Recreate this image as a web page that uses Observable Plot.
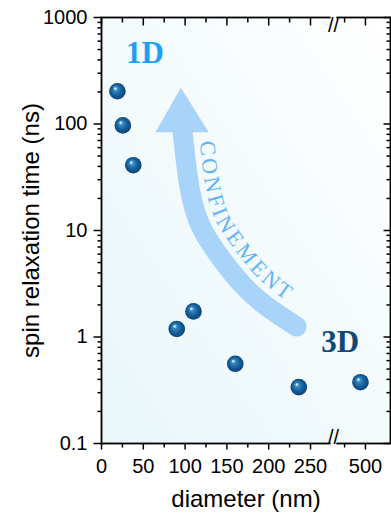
<!DOCTYPE html>
<html>
<head>
<meta charset="utf-8">
<script src="https://cdn.jsdelivr.net/npm/d3@7"></script>
<script src="https://cdn.jsdelivr.net/npm/@observablehq/plot@0.6"></script>
<style>
  html, body { margin: 0; padding: 0; background: #fff; overflow: hidden; }
  svg { display: block; }
</style>
</head>
<body>
<div id="chart"></div>
<script>
// ---- data ----
const diameters  = [19, 25.5, 38, 90, 110, 160, 236, 494];          // nm
const relaxTimes = [203, 97, 41, 1.19, 1.74, 0.56, 0.338, 0.376];   // ns

// axis ticks
const yTicks      = [0.1, 1, 10, 100, 1000];
const yTickLabels = ["0.1", "1", "10", "100", "1000"];
const xTicks      = [0, 50, 100, 150, 200, 250, 500];
const xTickLabels = ["0", "50", "100", "150", "200", "250", "500"];
const xMinorTicks = [25, 75, 125, 175, 225, 475];
const xBreak      = [277.5, 461.7];   // broken x-axis interval
const xMax        = 530;

// annotation: curved "confinement" arrow (data coordinates)
const arrowX = [96.9, 105.3, 118.4, 138.8, 166.3, 196.2, 233.3];
const arrowY = [85.0, 25.3, 11.1, 6.08, 3.25, 1.976, 1.255];
const headX  = [94.9, 64.6, 128.3, 94.9];
const headY  = [218.8, 83.8, 83.8, 218.8];

// annotation labels
const dimLabels = ["1D", "3D"];
const dimLabelX = [52, 469.6];
const dimLabelY = [464, 0.894];

const yMinorTicks = [];
for (const dec of [0.1, 1, 10, 100]) for (let k = 2; k <= 9; k++) yMinorTicks.push(+(dec * k).toPrecision(3));

const points = diameters.map((d, i) => ({diameter: d, time: relaxTimes[i]}));
const shaft = arrowX.map((x, i) => ({x, y: arrowY[i]}));
const head = headX.map((x, i) => ({x, y: headY[i]}));

// layout
const W = 391, H = 514, mL = 101, mR = 1, mT = 17, mB = 71;

const xOpts = {type: "linear", domain: [0, xBreak[0], xBreak[1], xMax], range: [mL, 333, 333, W - mR]};
const yOpts = {type: "log", domain: [0.1, 1000], range: [H - mB, mT]};
const xs = Plot.scale({x: xOpts});
const ys = Plot.scale({y: yOpts});

// tick segments (each tick = 2 points), lengths given in pixels and mapped back through the scales
const tickSegs = [];
let tid = 0;
const yTick = (v, p0, p1) => { tickSegs.push({id: tid, x: xs.invert(p0), y: v}, {id: tid, x: xs.invert(p1), y: v}); tid++; };
const xTick = (v, p0, p1) => { tickSegs.push({id: tid, x: v, y: ys.invert(p0)}, {id: tid, x: v, y: ys.invert(p1)}); tid++; };
yTicks.forEach(v => { yTick(v, mL - 8, mL); yTick(v, W - mR - 7, W - mR); });
yMinorTicks.forEach(v => { yTick(v, mL - 4, mL); yTick(v, W - mR - 4, W - mR); });
xTicks.forEach(v => { xTick(v, H - mB, H - mB + 6); xTick(v, mT, mT + 8); });
xMinorTicks.forEach(v => { xTick(v, H - mB, H - mB + 4); xTick(v, mT, mT + 5); });

const arrowColor = "#a9d4fa";
const fmt = (vals, labs) => d => { const i = vals.indexOf(d); return i < 0 ? "" : labs[i]; };
const serif = "'Liberation Serif', 'Times New Roman', serif";

const chart = Plot.plot({
  width: W,
  height: H,
  marginLeft: mL,
  marginRight: mR,
  marginTop: mT,
  marginBottom: mB,
  style: {fontFamily: "'Liberation Sans', Arial, sans-serif", fontSize: "20px", color: "black", background: "white", overflow: "visible"},
  x: {...xOpts, axis: null},
  y: {...yOpts, axis: null},
  marks: [
    Plot.frame({fill: "url(#bgGrad)", stroke: "none"}),
    // arrow
    Plot.line(shaft, {x: "x", y: "y", curve: "natural", stroke: arrowColor, strokeWidth: 20, strokeLinecap: "round"}),
    Plot.line(head, {x: "x", y: "y", fill: arrowColor, stroke: "none"}),
    // data points
    Plot.dot(points, {x: "diameter", y: "time", r: 8.3, fill: "url(#sphere)", stroke: "none"}),
    // labels
    Plot.text([0], {x: () => dimLabelX[0], y: () => dimLabelY[0], text: () => dimLabels[0], fontFamily: serif, fontWeight: "bold", fontSize: 31, fill: "#1f9ff3"}),
    Plot.text([1], {x: () => dimLabelX[1], y: () => dimLabelY[1], text: () => dimLabels[1], fontFamily: serif, fontWeight: "bold", fontSize: 31, fill: "#0e4978"}),
    // tick marks (left/bottom outward, right/top inward)
    Plot.line(tickSegs, {x: "x", y: "y", z: "id", stroke: "#000000", strokeWidth: 1.5, strokeLinecap: "butt"}),
    // frame
    Plot.frame({stroke: "black", strokeWidth: 1.8}),
    // axis break masks and marks
    Plot.dot([xBreak[0]], {x: d => d, frameAnchor: "top", symbol: "square", r: 3.2, fill: "white", stroke: "none"}),
    Plot.dot([xBreak[0]], {x: d => d, frameAnchor: "bottom", symbol: "square", r: 3.2, fill: "#f2fafc", stroke: "none"}),
    Plot.text([xBreak[0]], {x: d => d, frameAnchor: "top", text: () => "//", fontSize: 20, fill: "black"}),
    Plot.text([xBreak[0]], {x: d => d, frameAnchor: "bottom", text: () => "//", fontSize: 20, fill: "black"}),
    // tick labels
    Plot.axisY({ticks: yTicks, anchor: "left", tickSize: 0, tickPadding: 14, tickFormat: fmt(yTicks, yTickLabels), fontSize: 20, label: null}),
    Plot.axisX({ticks: xTicks, anchor: "bottom", tickSize: 0, tickPadding: 15, tickFormat: fmt(xTicks, xTickLabels), fontSize: 20, label: null}),
    // axis titles
    Plot.text(["spin relaxation time (ns)"], {frameAnchor: "left", dx: -70, rotate: -90, textAnchor: "middle", text: d => d, fontSize: 24}),
    Plot.text(["diameter (nm)"], {frameAnchor: "bottom", dy: 63, textAnchor: "middle", text: d => d, fontSize: 24})
  ]
});

document.getElementById("chart").append(chart);

// gradients
const svg = d3.select(chart);
const defs = svg.append("defs");
const bg = defs.append("linearGradient").attr("id", "bgGrad")
  .attr("x1", "1").attr("y1", "0").attr("x2", "0").attr("y2", "1");
bg.append("stop").attr("offset", "0%").attr("stop-color", "#ffffff");
bg.append("stop").attr("offset", "100%").attr("stop-color", "#e8f6fa");

const sph = defs.append("radialGradient").attr("id", "sphere")
  .attr("cx", "0.5").attr("cy", "0.5").attr("r", "0.55").attr("fx", "0.36").attr("fy", "0.32");
[["0%", "#f6fcff"], ["9%", "#b5def2"], ["22%", "#3a88c4"], ["55%", "#15629f"], ["100%", "#0a3d6e"]]
  .forEach(([o, c]) => sph.append("stop").attr("offset", o).attr("stop-color", c));

// "CONFINEMENT" along the arrow (path offset from the rendered shaft)
try {
  const shaftPath = chart.querySelector(`g[stroke="${arrowColor}"] path`);
  if (shaftPath) {
    const L = shaftPath.getTotalLength();
    const off = 16;
    const pts = [];
    for (let s = 0; s <= L; s += 2) {
      const p = shaftPath.getPointAtLength(s);
      const a = shaftPath.getPointAtLength(Math.max(0, s - 1));
      const b = shaftPath.getPointAtLength(Math.min(L, s + 1));
      const dx = b.x - a.x, dy = b.y - a.y, n = Math.hypot(dx, dy) || 1;
      pts.push([p.x + off * dy / n, p.y - off * dx / n]);
    }
    const tr = shaftPath.parentNode.getAttribute("transform");
    defs.append("path").attr("id", "confPath").attr("d", d3.line()(pts));
    const g = svg.append("g");
    if (tr) g.attr("transform", tr);
    g.append("text")
      .attr("text-anchor", "start")
      .attr("font-family", serif)
      .attr("font-size", 22)
      .attr("letter-spacing", 3)
      .attr("fill", "#62b4f6")
      .append("textPath").attr("href", "#confPath").attr("startOffset", 12).text("CONFINEMENT");
  }
} catch (e) {}
</script>
</body>
</html>
